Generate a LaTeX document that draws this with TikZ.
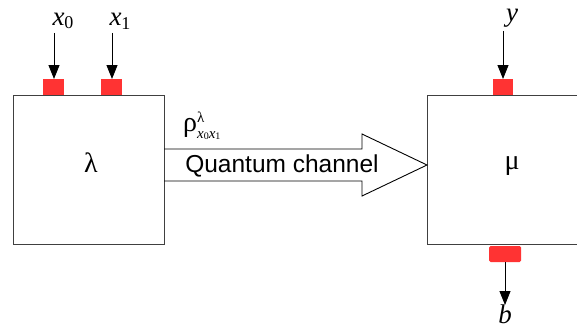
\documentclass[tikz,border=0pt]{standalone}
\usepackage{fontspec}
\setmainfont{Liberation Serif}
\newfontfamily\sansf{Liberation Sans}
\usetikzlibrary{arrows.meta}
\begin{document}
\begin{tikzpicture}[x=1pt,y=-1pt,
  boxstyle/.style={draw=black!75, line width=0.9pt},
  port/.style={fill=red!80!white, draw=none},
  inarrow/.style={-{Triangle[length=14pt,width=11pt]}, line width=0.9pt},
  lbl/.style={inner sep=0pt, font=\fontsize{28}{32}\selectfont},
  vlbl/.style={inner sep=0pt, font=\fontsize{27}{32}\selectfont\itshape}]
\useasboundingbox (0,0) rectangle (577,329);
\fill[white] (0,0) rectangle (577,329);
% left box
\draw[boxstyle] (13,244) -- (13,95) -- (164,95) -- (164,244) -- cycle;
\node[lbl] (lam) at (91,163) {λ};
% right box (clipped at right edge)
\draw[boxstyle] (577,95) -- (427,95) -- (427,244) -- (577,244);
\node[lbl] (mu) at (512,166) {μ};
% ports
\fill[port] (43,79) rectangle (64,95);
\fill[port] (101,79) rectangle (122,95);
\fill[port] (493,79) rectangle (513,95);
\fill[port, rounded corners=1.5pt] (489,246) rectangle (521,262);
\coordinate (p0) at (54,79);
\coordinate (p1) at (112,79);
\coordinate (py) at (503,79);
\coordinate (pb) at (505,262);
\node[vlbl] (x0) at (63,21) {x\raisebox{-0.3ex}{\upshape\fontsize{18}{20}\selectfont 0}};
\node[vlbl] (x1) at (120,21) {x\raisebox{-0.3ex}{\upshape\fontsize{18}{20}\selectfont 1}};
\node[vlbl] (yl) at (512,18) {y};
\node[vlbl] (bl) at (505,314) {b};
\draw[inarrow] (54,33) -- (p0);
\draw[inarrow] (112,33) -- (p1);
\draw[inarrow] (503,31) -- (py);
\draw[inarrow] (pb) -- (505,305);
% big arrow
\draw[line width=0.9pt] (164,149) -- (362,149) -- (362,134) -- (427,165) -- (362,196) -- (362,181) -- (164,181);
\node[inner sep=0pt, font=\sansf\fontsize{24.5}{28}\selectfont] (qc) at (282,166) {Quantum channel};
\node[inner sep=0pt, anchor=west, font=\fontsize{28}{32}\selectfont] (rho) at (183,126) {ρ$^{\mbox{\fontsize{15}{16}\selectfont λ}}_{\mbox{\fontsize{15}{16}\selectfont\itshape x\raisebox{-0.2ex}{\upshape\fontsize{10}{11}\selectfont 0}x\raisebox{-0.2ex}{\upshape\fontsize{10}{11}\selectfont 1}}}$};
\end{tikzpicture}
\end{document}
